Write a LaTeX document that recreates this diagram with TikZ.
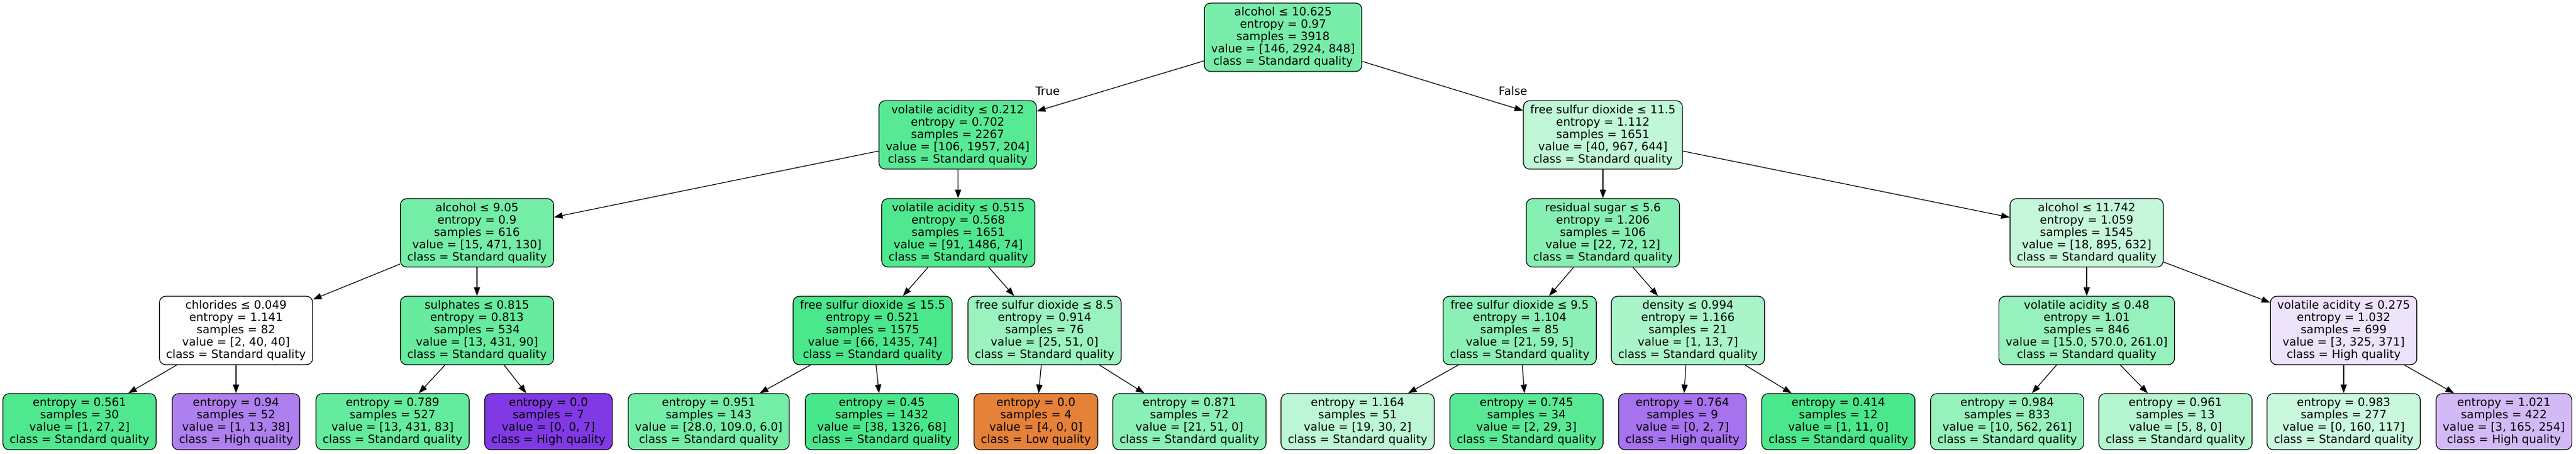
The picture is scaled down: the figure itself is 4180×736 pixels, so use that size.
\documentclass[tikz,border=0pt]{standalone}
\usepackage{fontspec}
\setmainfont{DejaVu Sans}
\usetikzlibrary{arrows.meta}
\definecolor{cgreen}{HTML}{39E581}
\definecolor{corange}{HTML}{E58139}
\definecolor{cpurple}{HTML}{8139E5}
\begin{document}
\begin{tikzpicture}[x=1pt,y=-1pt,
	split/.style={draw, rounded corners=10pt, align=center, line width=1.2pt, inner xsep=11pt, inner ysep=0pt, minimum height=111pt, font=\fontsize{18.5}{20}\selectfont},
	leaf/.style={split, minimum height=91pt},
	>={Triangle[length=14pt,width=10pt]}]
		\useasboundingbox (0,0) rectangle (4180,736);
		\node[split, fill=cgreen!68] (n0) at (2082,60.5) {alcohol ≤ 10.625\\entropy = 0.97\\samples = 3918\\value = [146, 2924, 848]\\class = Standard quality};
		\node[split, fill=cgreen!85] (n1) at (1554,219) {volatile acidity ≤ 0.212\\entropy = 0.702\\samples = 2267\\value = [106, 1957, 204]\\class = Standard quality};
		\node[split, fill=cgreen!32] (n16) at (2601,219) {free sulfur dioxide ≤ 11.5\\entropy = 1.112\\samples = 1651\\value = [40, 967, 644]\\class = Standard quality};
		\node[split, fill=cgreen!70] (n2) at (774,378) {alcohol ≤ 9.05\\entropy = 0.9\\samples = 616\\value = [15, 471, 130]\\class = Standard quality};
		\node[split, fill=cgreen!89] (n9) at (1555,378) {volatile acidity ≤ 0.515\\entropy = 0.568\\samples = 1651\\value = [91, 1486, 74]\\class = Standard quality};
		\node[split, fill=cgreen!60] (n17) at (2601,378) {residual sugar ≤ 5.6\\entropy = 1.206\\samples = 106\\value = [22, 72, 12]\\class = Standard quality};
		\node[split, fill=cgreen!29] (n24) at (3386,378) {alcohol ≤ 11.742\\entropy = 1.059\\samples = 1545\\value = [18, 895, 632]\\class = Standard quality};
		\node[split, fill=white] (n3) at (383,536.5) {chlorides ≤ 0.049\\entropy = 1.141\\samples = 82\\value = [2, 40, 40]\\class = Standard quality};
		\node[split, fill=cgreen!77] (n6) at (774,536.5) {sulphates ≤ 0.815\\entropy = 0.813\\samples = 534\\value = [13, 431, 90]\\class = Standard quality};
		\node[split, fill=cgreen!91] (n10) at (1416,536.5) {free sulfur dioxide ≤ 15.5\\entropy = 0.521\\samples = 1575\\value = [66, 1435, 74]\\class = Standard quality};
		\node[split, fill=cgreen!51] (n13) at (1695,536.5) {free sulfur dioxide ≤ 8.5\\entropy = 0.914\\samples = 76\\value = [25, 51, 0]\\class = Standard quality};
		\node[split, fill=cgreen!59] (n18) at (2466,536.5) {free sulfur dioxide ≤ 9.5\\entropy = 1.104\\samples = 85\\value = [21, 59, 5]\\class = Standard quality};
		\node[split, fill=cgreen!43] (n21) at (2739,536.5) {density ≤ 0.994\\entropy = 1.166\\samples = 21\\value = [1, 13, 7]\\class = Standard quality};
		\node[split, fill=cgreen!53] (n25) at (3386,536.5) {volatile acidity ≤ 0.48\\entropy = 1.01\\samples = 846\\value = [15.0, 570.0, 261.0]\\class = Standard quality};
		\node[split, fill=cpurple!14] (n28) at (3803,536.5) {volatile acidity ≤ 0.275\\entropy = 1.032\\samples = 699\\value = [3, 325, 371]\\class = High quality};
		\node[leaf, fill=cgreen!89] (n4) at (129,684.5) {entropy = 0.561\\samples = 30\\value = [1, 27, 2]\\class = Standard quality};
		\node[leaf, fill=cpurple!64] (n5) at (383,684.5) {entropy = 0.94\\samples = 52\\value = [1, 13, 38]\\class = High quality};
		\node[leaf, fill=cgreen!78] (n7) at (637,684.5) {entropy = 0.789\\samples = 527\\value = [13, 431, 83]\\class = Standard quality};
		\node[leaf, fill=cpurple] (n8) at (890,684.5) {entropy = 0.0\\samples = 7\\value = [0, 0, 7]\\class = High quality};
		\node[leaf, fill=cgreen!70] (n11) at (1150,684.5) {entropy = 0.951\\samples = 143\\value = [28.0, 109.0, 6.0]\\class = Standard quality};
		\node[leaf, fill=cgreen!92] (n12) at (1431,684.5) {entropy = 0.45\\samples = 1432\\value = [38, 1326, 68]\\class = Standard quality};
		\node[leaf, fill=corange] (n14) at (1681,684.5) {entropy = 0.0\\samples = 4\\value = [4, 0, 0]\\class = Low quality};
		\node[leaf, fill=cgreen!59] (n15) at (1930,684.5) {entropy = 0.871\\samples = 72\\value = [21, 51, 0]\\class = Standard quality};
		\node[leaf, fill=cgreen!34] (n19) at (2203,684.5) {entropy = 1.164\\samples = 51\\value = [19, 30, 2]\\class = Standard quality};
		\node[leaf, fill=cgreen!84] (n20) at (2477,684.5) {entropy = 0.745\\samples = 34\\value = [2, 29, 3]\\class = Standard quality};
		\node[leaf, fill=cpurple!71] (n22) at (2730,684.5) {entropy = 0.764\\samples = 9\\value = [0, 2, 7]\\class = High quality};
		\node[leaf, fill=cgreen!91] (n23) at (2983,684.5) {entropy = 0.414\\samples = 12\\value = [1, 11, 0]\\class = Standard quality};
		\node[leaf, fill=cgreen!53] (n26) at (3257,684.5) {entropy = 0.984\\samples = 833\\value = [10, 562, 261]\\class = Standard quality};
		\node[leaf, fill=cgreen!38] (n27) at (3530,684.5) {entropy = 0.961\\samples = 13\\value = [5, 8, 0]\\class = Standard quality};
		\node[leaf, fill=cgreen!27] (n29) at (3803,684.5) {entropy = 0.983\\samples = 277\\value = [0, 160, 117]\\class = Standard quality};
		\node[leaf, fill=cpurple!35] (n30) at (4063,684.5) {entropy = 1.021\\samples = 422\\value = [3, 165, 254]\\class = High quality};
		\node[font=\fontsize{18.5}{20}\selectfont] (ltrue) at (1700,148) {True};
		\node[font=\fontsize{18.5}{20}\selectfont] (lfalse) at (2455,148) {False};
		\draw[->, line width=1.2pt] (n0) -- (n1);
		\draw[->, line width=1.2pt] (n0) -- (n16);
		\draw[->, line width=1.2pt] (n1) -- (n2);
		\draw[->, line width=1.2pt] (n1) -- (n9);
		\draw[->, line width=1.2pt] (n2) -- (n3);
		\draw[->, line width=1.2pt] (n2) -- (n6);
		\draw[->, line width=1.2pt] (n3) -- (n4);
		\draw[->, line width=1.2pt] (n3) -- (n5);
		\draw[->, line width=1.2pt] (n6) -- (n7);
		\draw[->, line width=1.2pt] (n6) -- (n8);
		\draw[->, line width=1.2pt] (n9) -- (n10);
		\draw[->, line width=1.2pt] (n9) -- (n13);
		\draw[->, line width=1.2pt] (n10) -- (n11);
		\draw[->, line width=1.2pt] (n10) -- (n12);
		\draw[->, line width=1.2pt] (n13) -- (n14);
		\draw[->, line width=1.2pt] (n13) -- (n15);
		\draw[->, line width=1.2pt] (n16) -- (n17);
		\draw[->, line width=1.2pt] (n16) -- (n24);
		\draw[->, line width=1.2pt] (n17) -- (n18);
		\draw[->, line width=1.2pt] (n17) -- (n21);
		\draw[->, line width=1.2pt] (n18) -- (n19);
		\draw[->, line width=1.2pt] (n18) -- (n20);
		\draw[->, line width=1.2pt] (n21) -- (n22);
		\draw[->, line width=1.2pt] (n21) -- (n23);
		\draw[->, line width=1.2pt] (n24) -- (n25);
		\draw[->, line width=1.2pt] (n24) -- (n28);
		\draw[->, line width=1.2pt] (n25) -- (n26);
		\draw[->, line width=1.2pt] (n25) -- (n27);
		\draw[->, line width=1.2pt] (n28) -- (n29);
		\draw[->, line width=1.2pt] (n28) -- (n30);
	\end{tikzpicture}
\end{document}
